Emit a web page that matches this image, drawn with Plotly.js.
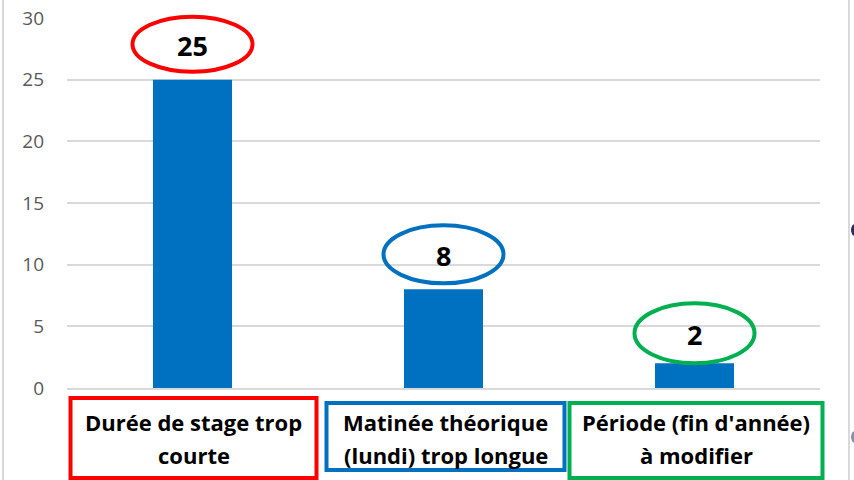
<!DOCTYPE html>
<html>
<head>
<meta charset="utf-8">
<script src="https://cdn.plot.ly/plotly-3.0.1.min.js"></script>
<style>
html,body{margin:0;padding:0;background:#fff;}
#chart{width:854px;height:480px;}
</style>
</head>
<body>
<div id="chart"></div>
<script>
// Data
var categories = ["Durée de stage trop courte", "Matinée théorique (lundi) trop longue", "Période (fin d'année) à modifier"];
var labelLine1 = ["Durée de stage trop", "Matinée théorique", "Période (fin d'année)"];
var labelLine2 = ["courte", "(lundi) trop longue", "à modifier"];
var values = [25, 8, 2];
var yTicks = [0, 5, 10, 15, 20, 25, 30];
var yMax = 30;

// Styles / layout helpers (pixels)
var highlightColors = ["#FF0000", "#0070C0", "#00B050"];
var ellipseBottom = [8, 6, 0];
var ellipseTop = [63, 64, 60];
var boxLeft = [-122, -117, -125];
var boxRight = [124, 121, 128];
var boxTop = [-10, -15, -15];
var boxBottom = [-90, -82, -90];
var FONT = "'Open Sans', sans-serif";

var shapes = [];
var annotations = [];
values.forEach(function (v, i) {
  var px = (i + 0.5) / categories.length;
  shapes.push({
    type: "circle", xref: "x", yref: "paper",
    xsizemode: "pixel", ysizemode: "pixel",
    xanchor: i, yanchor: v / yMax,
    x0: -60, x1: 60, y0: ellipseBottom[i], y1: ellipseTop[i],
    line: {color: highlightColors[i], width: 4},
    fillcolor: "rgba(0,0,0,0)"
  });
  annotations.push({
    x: i, y: v, xref: "x", yref: "y",
    text: "<b>" + v + "</b>",
    showarrow: false, yanchor: "middle",
    yshift: (ellipseBottom[i] + ellipseTop[i]) / 2 - 1,
    font: {family: FONT, size: 27, color: "#000"}
  });
  shapes.push({
    type: "rect", xref: "paper", yref: "paper",
    xsizemode: "pixel", ysizemode: "pixel",
    xanchor: px, yanchor: 0,
    x0: boxLeft[i], x1: boxRight[i], y0: boxBottom[i], y1: boxTop[i],
    line: {color: highlightColors[i], width: 4},
    fillcolor: "#fff"
  });
  var cx = (boxLeft[i] + boxRight[i]) / 2;
  annotations.push({
    x: i, y: 0, xref: "x", yref: "y",
    text: "<b>" + labelLine1[i] + "</b>",
    showarrow: false, yanchor: "middle",
    xshift: cx, yshift: -34,
    font: {family: FONT, size: 22, color: "#000"}
  });
  annotations.push({
    x: i, y: 0, xref: "x", yref: "y",
    text: "<b>" + labelLine2[i] + "</b>",
    showarrow: false, yanchor: "middle",
    xshift: cx, yshift: -67,
    font: {family: FONT, size: 22, color: "#000"}
  });
});

// outer frame lines and cut-off marks at the right edge
shapes.push({type: "line", xref: "paper", yref: "paper", x0: -0.085, x1: -0.085, y0: -0.4, y1: 1.1, line: {color: "#d9d9d9", width: 2}, layer: "below"});
shapes.push({type: "line", xref: "paper", yref: "paper", x0: 1.0385, x1: 1.0385, y0: -0.4, y1: 1.1, line: {color: "#d9d9d9", width: 2}, layer: "below"});
shapes.push({type: "circle", xref: "paper", yref: "paper", xsizemode: "pixel", ysizemode: "pixel", xanchor: 1, yanchor: 0, x0: 31, x1: 39, y0: 152, y1: 164, line: {width: 0}, fillcolor: "#2e2b66"});
shapes.push({type: "circle", xref: "paper", yref: "paper", xsizemode: "pixel", ysizemode: "pixel", xanchor: 1, yanchor: 0, x0: 31, x1: 39, y0: -55, y1: -43, line: {width: 0}, fillcolor: "#8a8fa8"});

var trace = {
  type: "bar",
  x: [0, 1, 2],
  y: values,
  marker: {color: "#0070C0"},
  hoverinfo: "skip"
};

var layout = {
  width: 854, height: 480,
  margin: {l: 67, r: 34, t: 18, b: 92},
  paper_bgcolor: "#fff", plot_bgcolor: "#fff",
  showlegend: false,
  bargap: 0.685,
  xaxis: {
    range: [-0.5, 2.5], showticklabels: false, showgrid: false,
    zeroline: false, showline: true, linecolor: "#d9d9d9", linewidth: 2, fixedrange: true
  },
  yaxis: {
    range: [0, yMax], tickvals: yTicks, ticktext: yTicks.map(String),
    showgrid: true, gridcolor: "#d9d9d9", gridwidth: 2,
    zeroline: false, showline: false, ticks: "",
    ticklabelstandoff: 22,
    tickfont: {family: FONT, size: 19, color: "#595959"}, fixedrange: true
  },
  shapes: shapes,
  annotations: annotations
};

Plotly.newPlot("chart", [trace], layout, {staticPlot: true, displayModeBar: false});
</script>
</body>
</html>
